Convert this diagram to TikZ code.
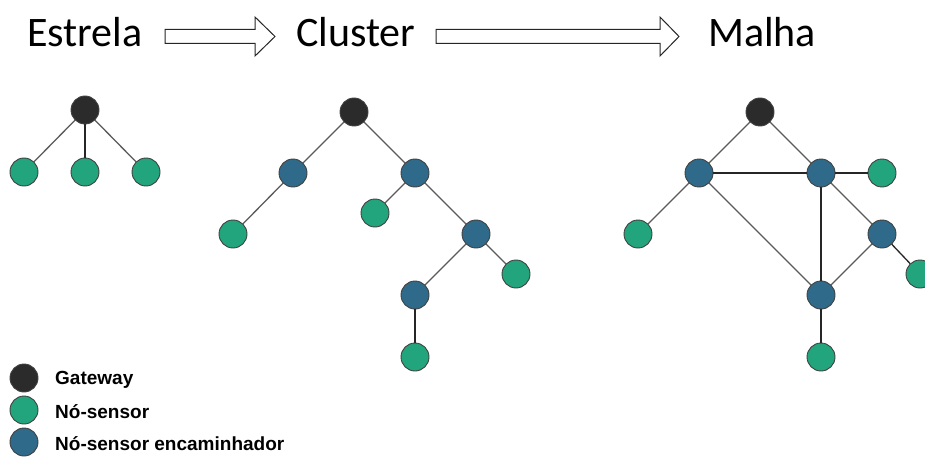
\documentclass[tikz,border=0pt]{standalone}
\usepackage{fontspec}
\setmainfont{Carlito}
\newfontfamily\legendfont{Liberation Sans}
\definecolor{gwc}{HTML}{2B2B2B}
\definecolor{snc}{HTML}{22A57C}
\definecolor{rtc}{HTML}{2F6A8A}
\definecolor{edgec}{HTML}{5A5A5A}
\begin{document}
\begin{tikzpicture}[x=1pt,y=-1pt,
  nd/.style={circle,draw=black!75,line width=0.9pt,minimum size=28pt,inner sep=0pt},
  gw/.style={nd,fill=gwc},
  sn/.style={nd,fill=snc},
  rt/.style={nd,fill=rtc},
  lnk/.style={draw=edgec,line width=1.3pt},
  dlnk/.style={lnk,draw=black!85},
  title/.style={anchor=base west,inner sep=0pt,font=\fontsize{42}{46}\selectfont},
  leg/.style={anchor=base west,inner sep=0pt,font=\legendfont\bfseries\fontsize{19}{22}\selectfont},
  bigarrow/.style={draw=black!85,line width=1pt,fill=white,line join=miter}]
\useasboundingbox (0,0) rectangle (925,457);
% titles
\node[title] (t1) at (27,47) {Estrela};
\node[title] (t2) at (296,47) {Cluster};
\node[title] (t3) at (708,47) {Malha};
\draw[bigarrow] (165,29.5) -- (255,29.5) -- (255,17) -- (275,36.5) -- (255,56) -- (255,43.5) -- (165,43.5) -- cycle;
\draw[bigarrow] (436,29.5) -- (660,29.5) -- (660,17) -- (679,36.5) -- (660,56) -- (660,43.5) -- (436,43.5) -- cycle;
% star
\node[gw] (sg) at (85,110) {};
\node[sn] (s1) at (24,172) {};
\node[sn] (s2) at (85,172) {};
\node[sn] (s3) at (146,172) {};
\draw[lnk] (sg) -- (s1);
\draw[dlnk] (sg) -- (s2);
\draw[lnk] (sg) -- (s3);
% cluster
\node[gw] (cg) at (354,112) {};
\node[rt] (cl) at (293,173) {};
\node[rt] (cr) at (415,173) {};
\node[sn] (cll) at (233,234) {};
\node[sn] (crs) at (375,213) {};
\node[rt] (crr) at (476,234) {};
\node[sn] (crrr) at (516,274) {};
\node[rt] (cb) at (415,295) {};
\node[sn] (cbb) at (415,357) {};
\draw[lnk] (cg) -- (cl);
\draw[lnk] (cg) -- (cr);
\draw[lnk] (cl) -- (cll);
\draw[lnk] (cr) -- (crs);
\draw[lnk] (cr) -- (crr);
\draw[lnk] (crr) -- (crrr);
\draw[lnk] (crr) -- (cb);
\draw[dlnk] (cb) -- (cbb);
% mesh
\node[gw] (mg) at (760,112) {};
\node[rt] (ml) at (699,173) {};
\node[rt] (mm) at (821,173) {};
\node[sn] (mgr) at (882,173) {};
\node[sn] (mgl) at (638,234) {};
\node[rt] (mr) at (882,234) {};
\node[sn] (mfr) at (920,274) {};
\node[rt] (mb) at (821,295) {};
\node[sn] (mbb) at (821,357) {};
\draw[lnk] (mg) -- (ml);
\draw[lnk] (mg) -- (mm);
\draw[dlnk] (ml) -- (mm);
\draw[lnk] (ml) -- (mgl);
\draw[lnk] (ml) -- (mb);
\draw[dlnk] (mm) -- (mgr);
\draw[dlnk] (mm) -- (mb);
\draw[lnk] (mm) -- (mr);
\draw[dlnk] (mr) -- (mfr);
\draw[lnk] (mr) -- (mb);
\draw[dlnk] (mb) -- (mbb);
% legend
\node[gw] (lg) at (24,378) {};
\node[sn] (ls) at (24,410) {};
\node[rt] (lr) at (24,442) {};
\node[leg] (lgt) at (55,384) {Gateway};
\node[leg] (lst) at (55,418) {Nó-sensor};
\node[leg] (lrt) at (55,450) {Nó-sensor encaminhador};
\end{tikzpicture}
\end{document}
